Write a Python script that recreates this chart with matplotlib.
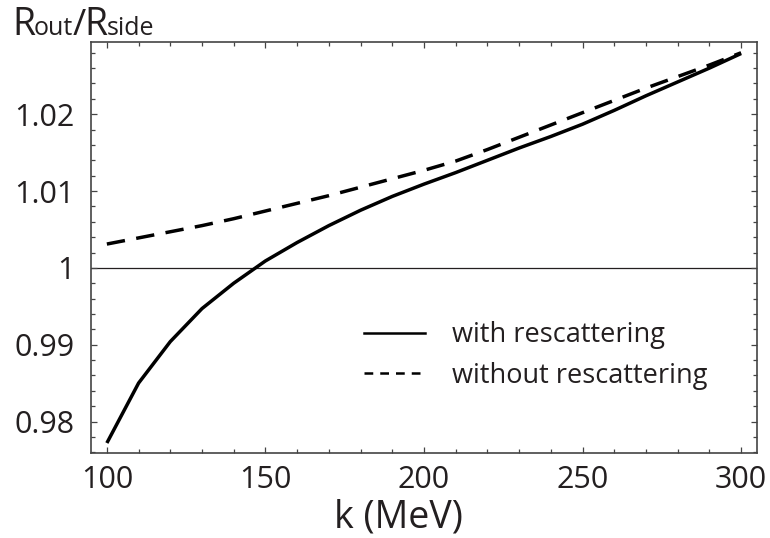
import matplotlib
matplotlib.use("Agg")
import matplotlib.pyplot as plt
from matplotlib.lines import Line2D
from matplotlib.ticker import MultipleLocator

plt.rcParams["font.family"] = ["Open Sans", "DejaVu Sans"]

INK = "#231f20"

# ── data ──────────────────────────────────────────────────────────────────────
k_mev = [100, 110, 120, 130, 140, 150, 160, 170, 180, 190, 200,
         210, 220, 230, 240, 250, 260, 270, 280, 290, 300]
with_rescattering = [0.9772, 0.9850, 0.9904, 0.9947, 0.9980, 1.0009, 1.0033,
                     1.0055, 1.0075, 1.0093, 1.0109, 1.0124, 1.0140, 1.0156,
                     1.0171, 1.0187, 1.0205, 1.0224, 1.0242, 1.0260, 1.0279]
without_rescattering = [1.0031, 1.0039, 1.0047, 1.0055, 1.0064, 1.0074, 1.0084,
                        1.0094, 1.0105, 1.0116, 1.0127, 1.0139, 1.0154, 1.0170,
                        1.0186, 1.0202, 1.0218, 1.0234, 1.0249, 1.0264, 1.0280]
series_labels = ["with rescattering", "without rescattering"]
x_ticks = [100, 150, 200, 250, 300]
y_ticks = [0.98, 0.99, 1.0, 1.01, 1.02]
y_tick_labels = ["0.98", "0.99", "1", "1.01", "1.02"]

fig = plt.figure(figsize=(7.7, 5.38), dpi=100)
ax = fig.add_axes([0.1182, 0.158, 0.8648, 0.7639])

ax.axhline(1.0, color=INK, lw=0.9, zorder=1)
ax.plot(k_mev, with_rescattering, color="black", lw=2.5, solid_capstyle="butt")
ax.plot(k_mev, without_rescattering, color="black", lw=2.5,
        linestyle=(0, (5.3, 3.3)), dash_capstyle="butt")

ax.set_xlim(95, 305)
ax.set_ylim(0.9759, 1.0294)
ax.set_xticks(x_ticks)
ax.set_yticks(y_ticks)
ax.set_yticklabels(y_tick_labels)
ax.xaxis.set_minor_locator(MultipleLocator(10))
ax.yaxis.set_minor_locator(MultipleLocator(0.002))

for sp in ax.spines.values():
    sp.set_color("#444444")
    sp.set_linewidth(1.2)
ax.tick_params(which="both", direction="in", top=True, right=True,
               color="#444444", width=0.9)
ax.tick_params(which="major", length=4.5, labelsize=22, labelcolor=INK, pad=12)
ax.tick_params(axis="x", which="major", pad=9)
ax.tick_params(which="minor", length=2.6)

ax.set_xlabel("k (MeV)", fontsize=27, color=INK)
ax.xaxis.set_label_coords(0.462, -0.11)

# legend drawn from proxy handles
handles = [Line2D([], [], color="black", lw=1.8),
           Line2D([], [], color="black", lw=1.8, linestyle=(0, (3.5, 2.8)))]
ax.legend(handles, series_labels, loc="upper left", bbox_to_anchor=(0.41, 0.32),
          frameon=False, fontsize=19.5, handlelength=2.25, handletextpad=1.0,
          labelspacing=0.45, borderpad=0, borderaxespad=0, labelcolor=INK)

# y label: R_out / R_side with small lowercase parts on the baseline
pieces = [("R", 27), ("out", 18), ("/", 26), ("R", 27), ("side", 18)]
fig.canvas.draw()
renderer = fig.canvas.get_renderer()
x_px, base_px = 12, 538 - 35
for txt, size in pieces:
    t = fig.text(x_px / 770, base_px / 538, txt, fontsize=size, color=INK,
                 va="baseline", ha="left")
    x_px = t.get_window_extent(renderer).x1 - 1

fig.savefig("out.png", dpi=100)
